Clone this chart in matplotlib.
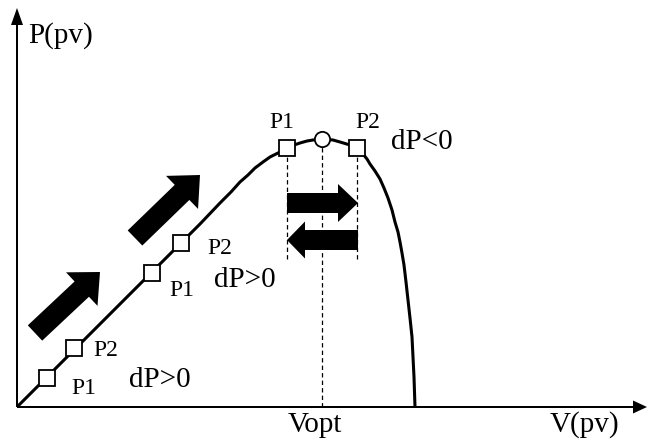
import matplotlib
matplotlib.use("Agg")
import matplotlib.pyplot as plt
from matplotlib.patches import FancyArrow

# ---- data (chart units: V to the right, P upward, origin at axes corner) ----
curve_v = [0, 183, 203, 214, 223, 231, 238, 246, 253, 259, 265, 270, 277, 283,
           290, 296, 306, 316, 323, 333, 340, 346, 350, 353, 358, 363, 367, 371,
           375, 378, 381, 383, 385, 387, 389, 391, 393, 395, 396, 397, 398]
curve_p = [0, 183, 204, 215, 225, 232, 239, 245, 250, 253, 256, 259, 262, 264,
           266, 267, 268, 267, 265, 262, 259, 253, 248, 243, 236, 228, 219, 209,
           197, 185, 175, 165, 154, 142, 125, 107, 89, 70, 50, 30, 0]

square_v = [30, 57, 135, 164, 270, 340]
square_p = [29, 59, 134, 164, 259, 259]
square_labels = ["P1", "P2", "P1", "P2", "P1", "P2"]
label_v = [67, 89, 165, 203, 265, 351]
label_p = [19, 57, 116, 158, 284, 284]

opt_v = 305
opt_p = 268

dp_texts = ["dP>0", "dP>0", "dP<0"]
dp_v = [143, 228, 405]
dp_p = [27, 127, 265]

# ---- figure ----
W, H = 647, 446
OX, OY = 17, 407  # pixel position of the origin
fig = plt.figure(figsize=(W / 100, H / 100), dpi=100)
ax = fig.add_axes([0, 0, 1, 1])
ax.set_xlim(-OX, W - OX)
ax.set_ylim(-(H - OY), OY)
ax.axis("off")

serif = "Liberation Serif"

# axes arrows
ax.add_patch(FancyArrow(0, 0, W - OX, 0, width=2, head_width=13, head_length=14,
                        length_includes_head=True, color="black", lw=0))
ax.add_patch(FancyArrow(0, 0, 0, OY - 8, width=2, head_width=12, head_length=17,
                        length_includes_head=True, color="black", lw=0))

# dashed guide lines
ax.plot([270, 270], [148, 254], ls=(0, (3.5, 2.5)), color="black", lw=0.9)
ax.plot([340, 340], [148, 254], ls=(0, (3.5, 2.5)), color="black", lw=0.9)
ax.plot([opt_v, opt_v], [0, 261], ls=(0, (3.5, 2.5)), color="black", lw=0.9)

# P-V curve
ax.plot(curve_v, curve_p, color="black", lw=2.2, solid_capstyle="butt",
        solid_joinstyle="round", zorder=3)

# markers
ax.plot(square_v, square_p, ls="none", marker="s", ms=11.3, mfc="white",
        mec="black", mew=1.3, zorder=4)
ax.plot([opt_v], [opt_p], ls="none", marker="o", ms=11, mfc="white",
        mec="black", mew=1.3, zorder=4)

# big diagonal arrows
for tail, tip in [((18, 74), (83, 135)), ((118, 169), (183, 232))]:
    ax.add_patch(FancyArrow(tail[0], tail[1], tip[0] - tail[0], tip[1] - tail[1],
                            width=21, head_width=46, head_length=25,
                            length_includes_head=True, color="black", lw=0))

# horizontal arrows
ax.add_patch(FancyArrow(270, 204, 71, 0, width=20, head_width=38, head_length=20,
                        length_includes_head=True, color="black", lw=0))
ax.add_patch(FancyArrow(341, 167, -71, 0, width=20, head_width=37, head_length=18,
                        length_includes_head=True, color="black", lw=0))

# texts
for t, v, p in zip(square_labels, label_v, label_p):
    ax.text(v, p, t, fontsize=17, family=serif, ha="center", va="center")
for t, v, p in zip(dp_texts, dp_v, dp_p):
    ax.text(v, p, t, fontsize=21, family=serif, ha="center", va="center")

ax.text(44, 371, "P(pv)", fontsize=21, family=serif, ha="center", va="center")
ax.text(567, -18, "V(pv)", fontsize=21, family=serif, ha="center", va="center")
ax.text(298, -18, "Vopt", fontsize=21, family=serif, ha="center", va="center")

fig.savefig("out.png", dpi=100)
